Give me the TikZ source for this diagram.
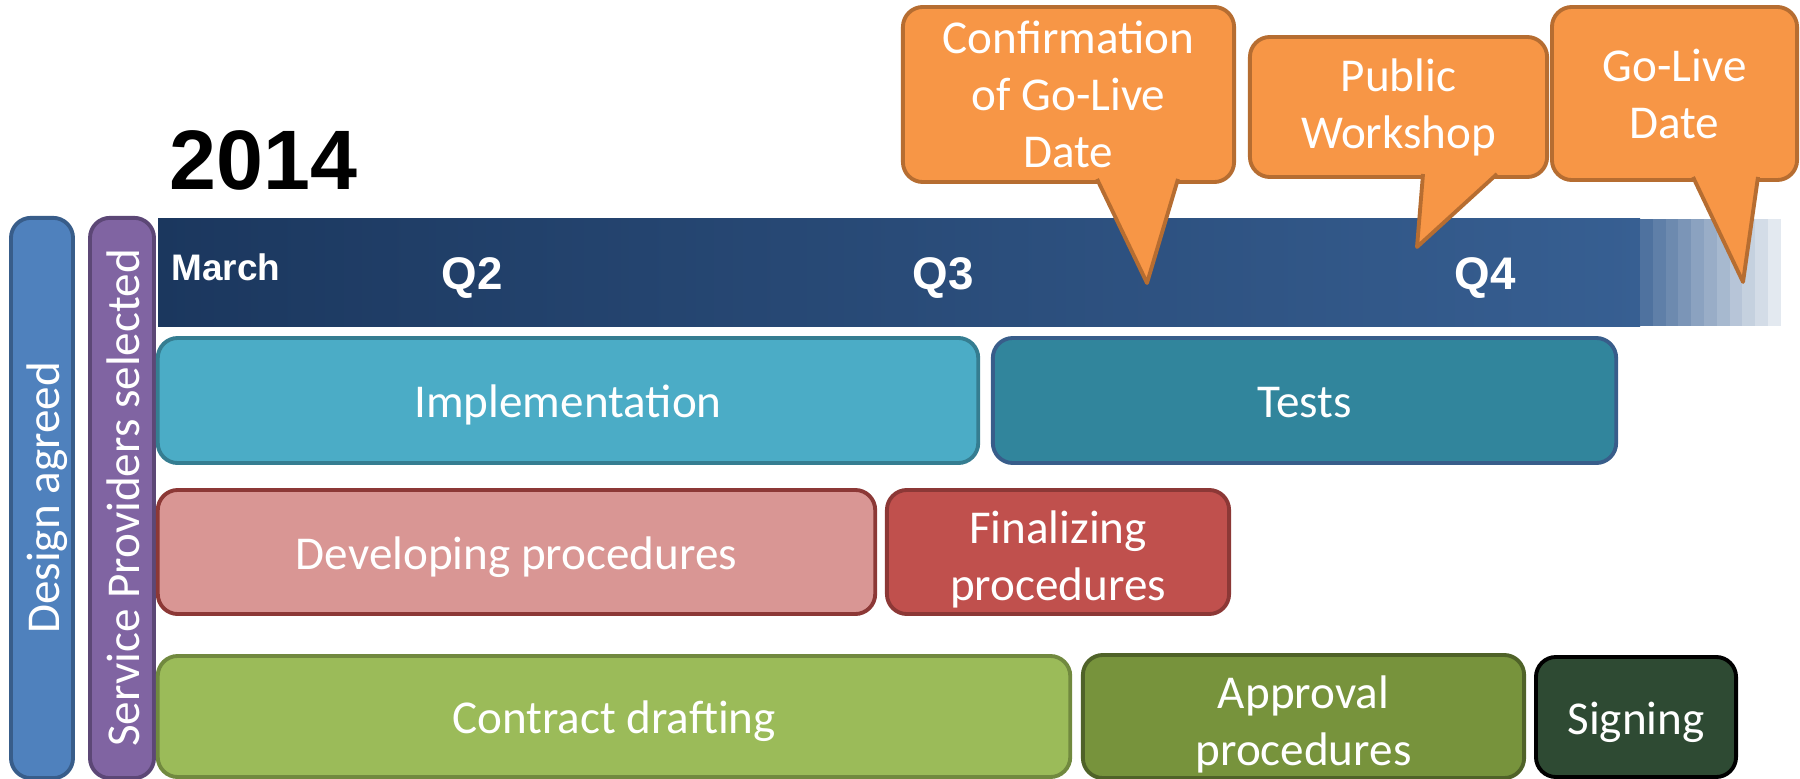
\documentclass[tikz,border=0pt]{standalone}
\usepackage{fontspec}
\setmainfont{Carlito}
\newfontfamily\headfont{Liberation Sans}

\definecolor{tlL}{HTML}{1B375E}
\definecolor{tlR}{HTML}{375F92}
\definecolor{implF}{HTML}{4BACC6}
\definecolor{implD}{HTML}{357D91}
\definecolor{testF}{HTML}{31859C}
\definecolor{testD}{HTML}{385D8A}
\definecolor{devF}{HTML}{D99694}
\definecolor{devD}{HTML}{8C3836}
\definecolor{finF}{HTML}{C0504D}
\definecolor{finD}{HTML}{8C3836}
\definecolor{conF}{HTML}{9BBB59}
\definecolor{conD}{HTML}{71893F}
\definecolor{appF}{HTML}{77933C}
\definecolor{appD}{HTML}{4F6228}
\definecolor{signF}{HTML}{2E4A33}
\definecolor{desF}{HTML}{4F81BD}
\definecolor{desD}{HTML}{385D8A}
\definecolor{spF}{HTML}{8064A2}
\definecolor{spD}{HTML}{5C4776}
\definecolor{callF}{HTML}{F79646}
\definecolor{callD}{HTML}{B66D31}

\newcommand{\topstrut}{\rule{0pt}{1.0em}}
\newcommand{\tallstrut}{\rule{0pt}{1.12em}}
\newcommand{\botstrut}{\rule[-0.27em]{0pt}{0.27em}}

\tikzset{
  roundbox/.style={draw, line width=1.1pt, rounded corners=0.2cm, text=white, align=center, inner sep=0pt},
  task/.style={roundbox, font=\fontsize{13.4}{16.2}\selectfont,
    execute at begin node=\topstrut, execute at end node=\botstrut},
  callout/.style={roundbox, fill=callF, draw=callD, font=\fontsize{13.4}{16.2}\selectfont},
  tail/.style={fill=callF, draw=callD, line width=1.1pt, line join=round},
  quarter/.style={text=white, anchor=base, inner sep=0pt, font=\headfont\bfseries\fontsize{13}{13}\selectfont},
}

\begin{document}
\begin{tikzpicture}[x=0.01cm, y=-0.01cm]
\useasboundingbox (0,0) rectangle (1800,779);

% milestones on the left
\node[task, fill=desF, draw=desD, rotate=90, minimum width=5.6cm, minimum height=0.62cm] (design) at (42,498) {Design agreed};
\node[task, fill=spF, draw=spD, rotate=90, minimum width=5.6cm, minimum height=0.64cm] (providers) at (122,498) {Service Providers selected};

% time line
\shade[left color=tlL, right color=tlR] (158,219) rectangle (1640,326);
\foreach \i [evaluate=\i as \pct using int(88-7.3*\i)] in {0,...,10}
  \fill[tlR!\pct!white] ({1640+12.8*\i},219) rectangle ({1640+12.8*(\i+1)},326);

\node[anchor=base west, inner sep=0pt, font=\headfont\bfseries\fontsize{24}{24}\selectfont] (year) at (169,190) {2014};
\node[anchor=base west, inner sep=0pt, text=white, font=\headfont\bfseries\fontsize{10.5}{10.5}\selectfont] (march) at (171,280) {March};
\node[quarter] (q2) at (472,289) {Q2};
\node[quarter] (q3) at (943,289) {Q3};
\node[quarter] (q4) at (1485,289) {Q4};

% tasks
\node[task, fill=implF, draw=implD, minimum width=8.2cm, minimum height=1.25cm] (impl) at (568,400.5) {Implementation};
\node[task, fill=testF, draw=testD, minimum width=6.23cm, minimum height=1.25cm] (tests) at (1304.5,400.5) {Tests};
\node[task, fill=devF, draw=devD, minimum width=7.17cm, minimum height=1.24cm] (develop) at (516.5,552) {Developing procedures};
\node[task, fill=finF, draw=finD, minimum width=3.42cm, minimum height=1.24cm] (final) at (1058,552) {\tallstrut Finalizing\\procedures};
\node[task, fill=conF, draw=conD, minimum width=9.12cm, minimum height=1.21cm] (contract) at (614,716.5) {Contract drafting};
\node[task, fill=appF, draw=appD, minimum width=4.41cm, minimum height=1.23cm] (approval) at (1303.5,716.5) {\tallstrut Approval\\procedures};
\node[task, fill=signF, draw=black, minimum width=2.0cm, minimum height=1.2cm] (signing) at (1636,717) {Signing};

% call-outs
\node[callout, minimum width=3.31cm, minimum height=1.75cm] (confirm) at (1068.5,94.5) {Confirmation\\of Go-Live\\Date};
\node[callout, minimum width=2.97cm, minimum height=1.4cm] (workshop) at (1398.5,107) {Public\\Workshop};
\node[callout, minimum width=2.45cm, minimum height=1.73cm] (golive) at (1674.5,93.5) {Go-Live\\Date};
\coordinate (confirmtip) at (1147,283);
\coordinate (workshoptip) at (1417,247);
\coordinate (golivetip) at (1743,282);
\filldraw[tail] (1097,179) -- (confirmtip) -- (1178,179);
\filldraw[tail] (1423,174) -- (workshoptip) -- (1497,174);
\filldraw[tail] (1693,177) -- (golivetip) -- (1758,177);

\end{tikzpicture}
\end{document}
